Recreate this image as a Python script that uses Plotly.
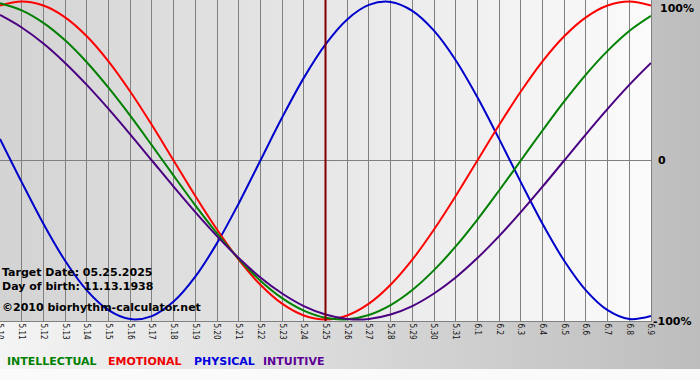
import base64
import plotly.graph_objects as go

# ---------------- data ----------------
days = ["5.10", "5.11", "5.12", "5.13", "5.14", "5.15", "5.16", "5.17", "5.18", "5.19",
        "5.20", "5.21", "5.22", "5.23", "5.24", "5.25", "5.26", "5.27", "5.28", "5.29",
        "5.30", "5.31", "6.1", "6.2", "6.3", "6.4", "6.5", "6.6", "6.7", "6.8", "6.9"]

intellectual = [0.990, 0.945, 0.866, 0.756, 0.618, 0.458, 0.282, 0.095, -0.095, -0.282,
                -0.458, -0.618, -0.756, -0.866, -0.945, -0.990, -0.999, -0.972, -0.910, -0.815,
                -0.690, -0.541, -0.372, -0.189, 0.0, 0.189, 0.372, 0.541, 0.690, 0.815, 0.910]

emotional = [0.975, 1.0, 0.975, 0.901, 0.782, 0.624, 0.434, 0.223, 0.0, -0.223,
             -0.434, -0.624, -0.782, -0.901, -0.975, -1.0, -0.975, -0.901, -0.782, -0.624,
             -0.434, -0.223, 0.0, 0.223, 0.434, 0.624, 0.782, 0.901, 0.975, 1.0, 0.975]

physical = [0.136, -0.136, -0.398, -0.631, -0.817, -0.942, -0.998, -0.979, -0.888, -0.731,
            -0.520, -0.270, 0.0, 0.270, 0.520, 0.731, 0.888, 0.979, 0.998, 0.942,
            0.817, 0.631, 0.398, 0.136, -0.136, -0.398, -0.631, -0.817, -0.942, -0.998, -0.979]

intuitive = [0.916, 0.837, 0.736, 0.614, 0.476, 0.325, 0.165, 0.0, -0.165, -0.325,
             -0.476, -0.614, -0.736, -0.837, -0.916, -0.969, -0.997, -0.997, -0.969, -0.916,
             -0.837, -0.736, -0.614, -0.476, -0.325, -0.165, 0.0, 0.165, 0.325, 0.476, 0.614]

target_day = "5.25"
y_tick_labels = ["100%", "0", "-100%"]
info_lines = ["Target Date: 05.25.2025", "Day of birth: 11.13.1938", "©2010 biorhythm-calculator.net"]
legend_names = ["INTELLECTUAL", "EMOTIONAL", "PHYSICAL", "INTUITIVE"]

# ---------------- styling ----------------
W, H = 700, 380
ML, MR, MT, MB = 0, 49, 0, 59
PW, PH = W - ML - MR, H - MT - MB

line_colors = {"INTELLECTUAL": "#008000", "EMOTIONAL": "#ff0000",
               "PHYSICAL": "#0000cc", "INTUITIVE": "#4b0082"}
legend_colors = {"INTELLECTUAL": "#008000", "EMOTIONAL": "#ee0000",
                 "PHYSICAL": "#0000dd", "INTUITIVE": "#5c0096"}

# background gradients (no text) as an SVG data URI
svg = f"""<svg xmlns='http://www.w3.org/2000/svg' width='{W}' height='{H}' viewBox='0 0 {W} {H}' preserveAspectRatio='none'>
<defs>
<linearGradient id='o' x1='0' y1='0' x2='1' y2='0'><stop offset='0' stop-color='#f4f4f4'/><stop offset='1' stop-color='#bdbdbd'/></linearGradient>
<linearGradient id='p' x1='0' y1='0' x2='1' y2='0'><stop offset='0' stop-color='#d3d3d3'/><stop offset='1' stop-color='#fbfbfb'/></linearGradient>
</defs>
<rect x='0' y='0' width='{W}' height='369' fill='url(#o)'/>
<rect x='0' y='369' width='{W}' height='{H-369}' fill='#fafafa'/>
<rect x='0' y='0' width='{PW}' height='{PH}' fill='url(#p)'/>
</svg>"""
svg_uri = "data:image/svg+xml;base64," + base64.b64encode(svg.encode()).decode()

fig = go.Figure()
series = [("PHYSICAL", physical), ("EMOTIONAL", emotional),
          ("INTELLECTUAL", intellectual), ("INTUITIVE", intuitive)]
for name, vals in series:
    fig.add_trace(go.Scatter(x=days, y=vals, mode="lines", name=name,
                             line=dict(color=line_colors[name], width=2, shape="spline", smoothing=1.0),
                             hoverinfo="skip", showlegend=False))

target_idx = days.index(target_day)
fig.add_shape(type="line", xref="x", yref="paper", x0=target_idx, x1=target_idx, y0=0, y1=1,
              line=dict(color="#800000", width=2), layer="above")

fig.add_layout_image(dict(source=svg_uri, xref="paper", yref="paper", x=0, y=1,
                          sizex=W / PW, sizey=H / PH, xanchor="left", yanchor="top",
                          sizing="stretch", layer="below"))

bold = dict(family="DejaVu Sans", size=11, color="#000000", weight="bold")

# right side percent labels
for txt, yp, ya, xs in [(y_tick_labels[0], 1, "top", 7), (y_tick_labels[1], 0.5, "middle", 5),
                        (y_tick_labels[2], 0, "middle", 0)]:
    fig.add_annotation(text=f"<b>{txt}</b>", xref="paper", yref="paper", x=1, y=yp,
                       xanchor="left", yanchor=ya, xshift=xs, showarrow=False, font=bold)

# info text lines
for txt, ypx in zip(info_lines, [272, 286.5, 307.5]):
    fig.add_annotation(text=f"<b>{txt}</b>", xref="paper", yref="paper", x=0, y=1 - ypx / PH,
                       xanchor="left", yanchor="middle", xshift=0, showarrow=False, font=bold)

# legend texts
for name, xpx in zip(legend_names, [5, 106, 192, 261]):
    f = dict(bold)
    f["color"] = legend_colors[name]
    fig.add_annotation(text=f"<b>{name}</b>", xref="paper", yref="paper", x=0, y=1 - 361.5 / PH,
                       xanchor="left", yanchor="middle", xshift=xpx, showarrow=False, font=f)

fig.update_layout(
    width=W, height=H,
    margin=dict(l=ML, r=MR, t=MT, b=MB, pad=0, autoexpand=False),
    paper_bgcolor="#f0f0f0", plot_bgcolor="rgba(0,0,0,0)",
    showlegend=False,
    xaxis=dict(type="category", range=[0, len(days) - 1], tickmode="array", tickvals=days,
               ticktext=days, tickangle=90, showgrid=True, gridcolor="#808080", gridwidth=1,
               showline=True, mirror=True, linecolor="#808080", linewidth=1, ticks="",
               automargin=False,
               tickfont=dict(family="Liberation Sans Narrow, DejaVu Sans Condensed, Arial Narrow, sans-serif",
                             size=8, color="#111111"),
               fixedrange=True, zeroline=False),
    yaxis=dict(range=[-1.01, 1.01], showticklabels=False, showgrid=False, zeroline=True,
               zerolinecolor="#808080", zerolinewidth=1, showline=True, mirror=True,
               linecolor="#808080", linewidth=1, ticks="", fixedrange=True, automargin=False),
)

fig.write_html("out.html", config={"displayModeBar": False},
               post_script="document.body.style.margin='0';document.body.style.padding='0';")
